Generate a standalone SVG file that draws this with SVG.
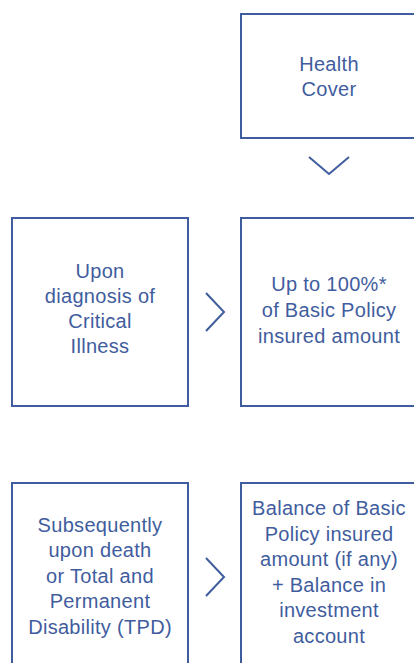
<svg xmlns="http://www.w3.org/2000/svg" width="414" height="663" viewBox="0 0 414 663">
<style>
.box{fill:#fff;stroke:#3f5d9e;stroke-width:2}
.t{font-family:"Liberation Sans",Arial,sans-serif;font-size:20px;letter-spacing:0.3px;fill:#3f5d9e;text-anchor:middle}
.chev{fill:none;stroke:#3f5d9e;stroke-width:2}
</style>
<rect width="414" height="663" fill="#fff"/>
<g id="health-cover">
<rect class="box" x="241" y="14" width="176" height="124"/>
<text class="t" x="329" y="70.5">Health</text>
<text class="t" x="329" y="95.7">Cover</text>
</g>
<g id="critical-illness">
<rect class="box" x="12" y="218" width="176" height="188"/>
<text class="t" x="100" y="277.5">Upon</text>
<text class="t" x="100" y="302.5">diagnosis of</text>
<text class="t" x="100" y="328">Critical</text>
<text class="t" x="100" y="353">Illness</text>
</g>
<g id="up-to-100">
<rect class="box" x="241" y="218" width="176" height="188"/>
<text class="t" x="329" y="291.3">Up to 100%*</text>
<text class="t" x="329" y="317">of Basic Policy</text>
<text class="t" x="329" y="342.5">insured amount</text>
</g>
<g id="death-tpd">
<rect class="box" x="12" y="483" width="176" height="200"/>
<text class="t" x="100" y="531.7">Subsequently</text>
<text class="t" x="100" y="557.3">upon death</text>
<text class="t" x="100" y="582.8">or Total and</text>
<text class="t" x="100" y="608.3">Permanent</text>
<text class="t" x="100" y="633.6">Disability (TPD)</text>
</g>
<g id="balance">
<rect class="box" x="241" y="483" width="176" height="200"/>
<text class="t" x="329" y="515">Balance of Basic</text>
<text class="t" x="329" y="540.7">Policy insured</text>
<text class="t" x="329" y="566.2">amount (if any)</text>
<text class="t" x="329" y="591.7">+ Balance in</text>
<text class="t" x="329" y="617.2">investment</text>
<text class="t" x="329" y="642.7">account</text>
</g>
<g id="connectors">
<polyline class="chev" points="309,157 329,174 349,157"/>
<polyline class="chev" points="206,293 224,312 206,331"/>
<polyline class="chev" points="206,558 224,577 206,596"/>
</g>
</svg>
